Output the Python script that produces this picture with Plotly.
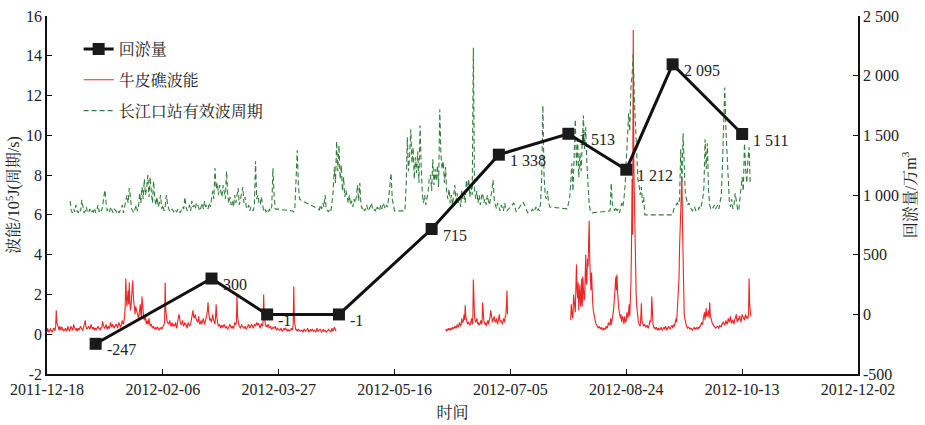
import pandas as pd
import plotly.graph_objects as go

# ---------------- 回淤量 (万m³) at each survey ----------------
survey_dates = ["2012-01-08", "2012-02-27", "2012-03-22", "2012-04-22", "2012-06-01",
                "2012-06-30", "2012-07-30", "2012-08-24", "2012-09-13", "2012-10-13"]
siltation = [-247, 300, -1, -1, 715, 1338, 1513, 1212, 2095, 1511]
siltation_labels = ["-247", "300", "-1", "-1", "715", "1 338", "1 513", "1 212", "2 095", "1 511"]

# ---------------- 牛皮礁波能 (10^5 J), 6-hourly, three recording periods (one row per day) ----------------
wave_energy_start_1 = "2011-12-18"
wave_energy_1 = [
    0.1, 0.3, 0.2, 0.1,   0.15, 0.25, 0.3, 0.15,   0.2, 0.1, 0.15, 0.3,   0.3, 0.2, 0.2, 0.4,
    1.2, 0.6, 0.5, 0.3,   0.3, 0.2, 0.4, 0.25,   0.2, 0.35, 0.35, 0.2,   0.25, 0.15, 0.2, 0.3,
    0.3, 0.2, 0.15, 0.25,   0.4, 0.3, 0.2, 0.15,   0.25, 0.4, 0.35, 0.2,   0.2, 0.3, 0.5, 0.35,
    0.3, 0.2, 0.2, 0.3,   0.15, 0.25, 0.3, 0.2,   0.25, 0.35, 0.4, 0.3,   0.3, 0.2, 0.2, 0.35,
    0.45, 0.6, 0.7, 0.4,   0.35, 0.25, 0.3, 0.4,   0.4, 0.3, 0.25, 0.35,   0.5, 0.4, 0.3, 0.25,
    0.35, 0.25, 0.2, 0.3,   0.3, 0.2, 0.25, 0.35,   0.4, 0.3, 0.3, 0.25,   0.2, 0.35, 0.3, 0.4,
    0.65, 0.5, 0.35, 0.3,   0.3, 0.45, 0.5, 0.35,   0.25, 0.35, 0.4, 0.3,   0.3, 0.5, 0.6, 0.4,
    0.35, 0.5, 0.45, 0.35,   0.3, 0.4, 0.4, 0.5,   0.5, 0.4, 0.3, 0.45,   0.6, 0.5, 0.4, 0.35,
    0.45, 0.6, 0.7, 0.55,   0.5, 0.7, 0.9, 1.4,   2.8, 1.9, 1.4, 1.8,   2.2, 1.5, 2.6, 1.7,
    1.2, 1.4, 1.8, 2.1,   2.7, 1.9, 1.5, 1.2,   1.0, 1.4, 1.3, 1.1,   1.1, 0.9, 0.8, 1.0,
    1.2, 1.5, 1.0, 0.9,   1.9, 1.3, 1.1, 0.8,   0.7, 0.9, 0.9, 0.6,   0.5, 0.7, 0.6, 0.5,
    0.8, 0.6, 0.4, 0.5,   0.5, 0.4, 0.3, 0.35,   0.4, 0.3, 0.25, 0.3,   0.35, 0.25, 0.3, 0.35,
    0.3, 0.2, 0.2, 0.3,   0.3, 0.35, 0.25, 0.3,   0.35, 0.4, 0.5, 0.6,   2.6, 1.2, 0.8, 0.7,
    0.6, 0.5, 0.5, 0.6,   0.7, 0.5, 0.4, 0.5,   0.6, 0.4, 0.5, 0.45,   0.4, 0.5, 0.6, 0.4,
    0.3, 0.5, 0.8, 0.9,   1.0, 0.7, 0.6, 0.5,   0.5, 0.6, 0.7, 0.5,   0.4, 0.5, 0.6, 0.5,
    0.5, 0.4, 0.3, 0.5,   0.6, 0.5, 0.4, 0.45,   0.5, 0.7, 0.9, 1.0,   1.2, 0.9, 0.8, 0.9,
    1.0, 0.8, 0.7, 0.6,   0.6, 0.7, 0.9, 0.6,   0.5, 0.6, 0.7, 0.5,   0.6, 0.7, 0.8, 0.6,
    0.5, 0.6, 0.7, 0.8,   1.0, 1.2, 1.6, 1.1,   0.9, 0.7, 0.8, 0.7,   0.6, 0.8, 1.0, 0.8,
    0.7, 0.6, 0.5, 0.9,   1.5, 0.9, 0.6, 0.5,   0.4, 0.5, 0.5, 0.4,   0.3, 0.4, 0.45, 0.35,
    0.35, 0.45, 0.5, 0.4,   0.3, 0.35, 0.4, 0.3,   0.25, 0.3, 0.35, 0.4,   0.5, 0.4, 0.3, 0.35,
    0.4, 0.3, 0.3, 0.4,   0.6, 0.5, 0.5, 0.6,   2.0, 0.9, 0.6, 0.5,   0.4, 0.35, 0.3, 0.4,
    0.5, 0.4, 0.35, 0.3,   0.3, 0.35, 0.4, 0.3,   0.25, 0.3, 0.35, 0.4,   0.5, 0.4, 0.3, 0.35,
    0.4, 0.5, 0.45, 0.4,   0.3, 0.4, 0.5, 0.45,   0.4, 0.5, 0.6, 0.5,   0.45, 0.55, 0.5, 0.4,
    0.3, 0.4, 0.55, 0.45,   0.4, 0.6, 2.0, 0.9,   0.6, 0.5, 0.4, 0.45,   0.35, 0.4, 0.5, 0.4,
    0.3, 0.35, 0.4, 0.3,   0.25, 0.3, 0.35, 0.3,   0.3, 0.35, 0.4, 0.3,   0.2, 0.25, 0.3, 0.25,
    0.25, 0.2, 0.2, 0.25,   0.3, 0.2, 0.15, 0.2,   0.25, 0.3, 0.2, 0.25,   0.3, 0.25, 0.2, 0.15,
    0.25, 0.2, 0.15, 0.2,   0.2, 0.25, 0.3, 0.2,   0.25, 0.5, 2.4, 0.7,   0.4, 0.3, 0.2, 0.25,
    0.15, 0.2, 0.25, 0.2,   0.2, 0.15, 0.15, 0.2,   0.2, 0.15, 0.1, 0.2,   0.25, 0.2, 0.15, 0.2,
    0.2, 0.25, 0.3, 0.2,   0.1, 0.15, 0.2, 0.25,   0.15, 0.2, 0.25, 0.2,   0.15, 0.2, 0.2, 0.15,
    0.1, 0.2, 0.3, 0.2,   0.15, 0.2, 0.2, 0.25,   0.25, 0.15, 0.1, 0.15,   0.2, 0.25, 0.15, 0.2,
    0.2, 0.15, 0.1, 0.15,   0.15, 0.2, 0.25, 0.2,   0.2, 0.15, 0.1, 0.2,   0.3, 0.2, 0.15, 0.25,
    0.35, 0.3, 0.2, 0.15,
]
wave_energy_start_2 = "2012-06-07"
wave_energy_2 = [
    0.2, 0.25, 0.15, 0.2,   0.25, 0.3, 0.2, 0.25,   0.3, 0.2, 0.25, 0.35,   0.35, 0.25, 0.3, 0.4,
    0.4, 0.3, 0.35, 0.3,   0.5, 0.4, 0.35, 0.45,   0.6, 0.5, 0.4, 0.5,   0.8, 0.6, 0.6, 0.7,
    1.0, 0.7, 1.45, 0.9,   0.7, 0.6, 0.5, 0.6,   0.6, 0.5, 0.45, 0.55,   0.7, 0.8, 0.5, 0.6,
    2.75, 1.2, 0.9, 0.7,   0.6, 0.7, 0.8, 0.6,   0.5, 0.6, 0.45, 0.5,   0.6, 0.7, 0.5, 0.6,
    1.6, 0.9, 0.7, 0.6,   0.5, 0.6, 0.4, 0.5,   0.6, 0.7, 0.5, 0.6,   0.8, 0.9, 1.2, 0.8,
    0.8, 0.6, 0.7, 0.8,   0.9, 0.7, 0.6, 0.7,   0.8, 0.6, 0.5, 0.7,   0.9, 1.0, 0.6, 0.7,
    0.7, 0.6, 0.5, 0.6,   0.8, 0.7, 0.6, 0.9,   0.9, 1.4, 2.2, 1.0,
]
wave_energy_start_3 = "2012-07-31"
wave_energy_3 = [
    0.7, 1.5, 1.2, 0.8,   0.9, 2.0, 1.5, 1.1,   1.1, 2.4, 3.5, 2.2,   1.8, 2.6, 1.2, 2.0,
    2.5, 1.4, 1.6, 2.8,   1.4, 2.9, 2.2, 1.7,   1.8, 3.2, 4.0, 2.5,   2.6, 3.8, 3.4, 4.6,
    5.7, 3.6, 3.0, 2.2,   3.1, 1.9, 1.6, 1.2,   1.0, 0.8, 0.7, 0.6,   0.5, 0.45, 0.4, 0.35,
    0.3, 0.4, 0.35, 0.3,   0.25, 0.35, 0.3, 0.2,   0.2, 0.3, 0.3, 0.25,   0.25, 0.4, 0.35, 0.3,
    0.4, 0.6, 0.5, 0.45,   0.55, 0.8, 0.45, 0.6,   0.7, 1.0, 1.2, 1.5,   2.0, 2.5, 2.9, 2.2,
    3.0, 2.1, 1.5, 1.3,   1.1, 0.9, 0.8, 1.0,   0.6, 0.8, 0.9, 0.7,   0.5, 0.9, 0.8, 0.6,
    0.7, 1.1, 1.0, 0.8,   1.2, 1.5, 0.9, 1.4,   2.5, 4.5, 7.8, 5.0,   15.3, 8.5, 6.2, 4.0,
    3.2, 2.0, 1.4, 1.0,   0.7, 0.6, 0.5, 0.45,   0.4, 0.8, 1.55, 0.7,   0.6, 0.5, 0.4, 0.45,
    0.5, 0.4, 0.35, 0.4,   0.45, 0.35, 0.3, 0.4,   0.5, 0.7, 0.6, 0.8,   1.9, 0.9, 0.5, 0.4,
    0.3, 0.35, 0.25, 0.3,   0.35, 0.25, 0.2, 0.3,   0.3, 0.2, 0.25, 0.3,   0.35, 0.25, 0.2, 0.25,
    0.3, 0.35, 0.25, 0.3,   0.4, 0.3, 0.2, 0.25,   0.3, 0.4, 0.35, 0.3,   0.25, 0.35, 0.4, 0.45,
    0.3, 0.45, 0.5, 0.4,   0.6, 0.7, 0.8, 0.6,   1.2, 1.6, 2.0, 2.8,   4.4, 5.2, 6.4, 7.2,
    7.9, 5.5, 3.0, 2.0,   1.0, 0.8, 0.6, 0.5,   0.4, 0.35, 0.3, 0.35,   0.35, 0.3, 0.25, 0.3,
    0.3, 0.25, 0.2, 0.25,   0.3, 0.35, 0.25, 0.3,   0.25, 0.3, 0.35, 0.3,   0.25, 0.35, 0.3, 0.4,
    0.4, 0.5, 0.6, 0.5,   0.5, 0.8, 0.9, 1.1,   0.7, 1.0, 1.3, 0.9,   0.9, 1.1, 1.2, 0.8,
    1.6, 1.0, 0.8, 0.7,   0.6, 0.5, 0.5, 0.4,   0.4, 0.35, 0.3, 0.35,   0.35, 0.4, 0.4, 0.3,
    0.3, 0.45, 0.4, 0.35,   0.35, 0.5, 0.5, 0.6,   0.6, 0.5, 0.45, 0.55,   0.7, 0.6, 0.5, 0.6,
    0.8, 0.7, 0.6, 0.8,   0.9, 0.6, 0.55, 0.7,   0.7, 0.6, 0.5, 0.7,   0.8, 0.9, 1.0, 0.7,
    0.6, 0.8, 0.7, 0.9,   0.9, 0.7, 0.6, 0.8,   1.0, 0.9, 0.8, 0.7,   0.7, 0.9, 1.0, 0.8,
    0.9, 0.8, 0.8, 1.0,   2.8, 1.5, 1.1, 0.9,
]

# ---------------- 长江口站有效波周期 (s), 12-hourly blocks ----------------
period_start_1 = "2011-12-28"
period_1 = [
    6.7, 6.2, 6.1, 6.3, 6.15, 6.5, 6.2, 6.1, 6.3, 6.2,
    6.75, 6.3, 6.1, 6.2, 6.4, 6.1, 6.15, 6.3, 6.1, 6.2,
    6.15, 6.35, 6.1, 6.2, 6.5, 6.15, 6.3, 6.2, 6.4, 6.9,
    7.25, 6.6, 6.2, 6.3, 6.15, 6.4, 6.2, 6.1, 6.3, 6.2,
    6.15, 6.25, 6.1, 6.2, 6.3, 6.5, 6.1, 6.4, 6.8, 7.0,
    6.6, 7.35, 6.9, 6.3, 6.2, 6.1, 6.3, 6.5, 6.2, 6.4,
    7.1, 6.6, 7.4, 6.8, 7.8, 7.0, 7.3, 8.0, 6.9, 7.9,
    7.2, 6.6, 7.7, 6.8, 6.5, 6.9, 6.4, 6.6, 7.0, 6.3,
    6.5, 6.2, 6.4, 7.0, 6.6, 6.3, 6.2, 6.15, 6.3, 6.2,
    6.1, 6.2, 6.15, 6.3, 6.2, 6.1, 6.25, 6.4, 6.3, 6.9,
    6.4, 6.2, 6.3, 6.5, 6.2, 6.7, 6.4, 6.5, 6.3, 6.6,
    6.5, 6.3, 6.2, 6.4, 6.6, 6.3, 6.7, 6.4, 6.5, 6.3,
    6.6, 6.4, 6.9, 7.2, 6.8, 8.35, 7.3, 7.6, 7.0, 7.5,
    7.2, 6.9, 7.5, 7.1, 6.8, 8.2, 7.0, 6.6, 6.9, 6.5,
    6.7, 6.4, 7.0, 6.6, 6.9, 7.35, 6.5, 6.8, 7.1, 7.4,
    6.6, 6.9, 6.4, 6.3, 6.5, 6.2, 6.4, 6.3, 6.2, 6.5,
    8.7, 6.8, 7.0, 6.6, 6.5, 6.9, 6.4, 6.2, 6.3, 6.15,
    6.2, 6.1, 6.3, 6.2, 6.4, 8.35, 7.0, 6.3,
]
period_start_2 = "2012-04-02"
period_2 = [6.2, 6.15, 6.4, 7.5, 9.25, 7.5, 6.8, 6.75]
period_start_3 = "2012-04-12 12:00"
period_3 = [
    6.35, 6.3, 6.25, 6.5, 6.3, 6.6, 6.4, 7.0, 6.3,
    6.2, 6.15, 6.3, 6.2, 6.6, 7.2, 8.4, 7.6, 9.7, 8.2,
    9.5, 7.8, 8.5, 7.2, 7.9, 6.9, 7.25, 6.8, 6.6, 7.0,
    6.5, 6.7, 6.4, 6.8, 6.6, 6.9, 7.5, 6.7, 7.6, 6.5,
    6.3, 6.4, 6.2, 6.3, 6.5, 6.2, 6.3, 6.4, 6.6, 6.3,
    6.2, 6.3, 6.15, 6.4, 6.3, 6.2, 6.5, 6.3, 6.6, 6.4,
    6.3, 6.5, 6.4, 6.9, 7.4, 8.1, 6.8, 6.4, 6.2,
]
period_start_4 = "2012-05-20 12:00"
period_4 = [
    6.2,
    7.5, 9.9, 8.2, 9.0, 10.3, 8.6, 9.4, 7.8, 8.9, 8.1,
    9.2, 7.6, 10.5, 8.4, 7.0, 6.6, 7.0, 6.5, 6.8, 7.2,
    7.9, 8.0, 7.2, 8.8, 7.5, 8.3, 7.7, 8.5, 7.4, 11.3,
    9.1, 8.3, 8.7, 7.6, 8.4, 7.1, 6.8, 7.3, 6.6, 7.0,
    6.5, 6.9, 7.5, 6.7, 7.1, 6.6, 6.9, 6.4, 7.2, 6.8,
    7.0, 6.6, 7.75, 7.2, 7.8, 6.9, 7.4, 7.0, 14.4, 7.3,
    6.8, 7.2, 6.6, 7.0, 6.5, 6.9, 7.1, 6.6, 6.8, 6.5,
    7.0, 6.7, 6.5, 6.9, 7.2, 7.75, 6.8, 6.5, 6.3, 6.6,
    6.4, 6.2, 6.5, 6.3, 6.2, 6.6, 6.3, 6.2,
]
# sparse single readings in early July
period_sparse_times = ["2012-07-06 12:00", "2012-07-07 12:00", "2012-07-10 12:00", "2012-07-12 12:00"]
period_sparse = [6.6, 6.15, 6.65, 6.1]
period_start_5 = "2012-07-14"
period_5 = [6.2, 6.3, 6.15, 6.25, 6.4, 6.2, 6.3, 6.2, 6.6, 7.8, 11.5, 8.0, 7.0, 6.8, 7.2, 6.6, 6.4]
period_start_6 = "2012-07-29 12:00"
period_6 = [6.3, 6.5, 6.8, 7.5, 8.6, 7.2, 9.5, 10.8, 8.4, 9.8, 7.9,
            9.1, 8.2, 10.1, 11.0, 9.3, 10.4, 8.6, 7.4, 6.5, 6.2, 6.1]
period_start_7 = "2012-08-17"
period_7 = [6.2, 7.6, 6.5, 6.3, 6.2, 6.4, 6.2, 6.3, 6.1, 6.3, 6.6, 6.4, 6.8, 7.5, 8.8, 9.6,
            11.1, 10.2, 12.4, 13.0, 14.1, 11.8, 10.6, 9.0, 7.8, 7.5, 7.0, 7.4, 6.6, 6.9, 6.0]
period_start_8 = "2012-09-13"
period_8 = [
    6.0, 6.3, 6.4, 6.5, 6.6, 6.5, 6.8, 9.3, 7.6, 10.1,
    8.2, 7.0, 6.8, 6.5, 6.6, 6.4, 6.3, 6.2, 6.3, 6.4,
    6.2, 6.3, 6.25, 6.4, 6.3, 6.5, 6.8, 7.4, 9.8, 8.3,
    9.6, 7.2, 6.5, 6.3, 6.4, 6.35, 6.5, 6.3, 6.4, 6.5,
    6.3, 6.6, 7.0, 8.5, 11.0, 12.4, 10.3, 9.0, 8.1, 6.6,
    6.4, 6.8, 6.3, 6.5, 7.1, 6.6, 6.3, 6.2, 6.8, 7.3,
    7.9, 7.2, 9.6, 8.3, 7.6, 8.8, 9.4, 7.5,
]

# axis ticks
x_tick_dates = ["2011-12-18", "2012-02-06", "2012-03-27", "2012-05-16",
                "2012-07-05", "2012-08-24", "2012-10-13", "2012-12-02"]
left_ticks = [-2, 0, 2, 4, 6, 8, 10, 12, 14, 16]
left_tick_text = ["-2", "0", "2", "4", "6", "8", "10", "12", "14", "16"]
right_ticks = [-500, 0, 500, 1000, 1500, 2000, 2500]
right_tick_text = ["-500", "0", "500", "1 000", "1 500", "2 000", "2 500"]


def sampled(start, values, freq):
    return list(pd.date_range(start, periods=len(values), freq=freq))


# red series: separate recording periods, broken by gaps
red_x, red_y = [], []
for start, vals in [(wave_energy_start_1, wave_energy_1),
                    (wave_energy_start_2, wave_energy_2),
                    (wave_energy_start_3, wave_energy_3)]:
    t = sampled(start, vals, "6h")
    red_x += t + [t[-1]]
    red_y += vals + [None]

# green series: blocks joined directly
green_x, green_y = [], []
for start, vals in [(period_start_1, period_1), (period_start_2, period_2),
                    (period_start_3, period_3), (period_start_4, period_4)]:
    green_x += sampled(start, vals, "12h")
    green_y += vals
green_x += list(pd.to_datetime(period_sparse_times))
green_y += period_sparse
for start, vals in [(period_start_5, period_5), (period_start_6, period_6),
                    (period_start_7, period_7), (period_start_8, period_8)]:
    green_x += sampled(start, vals, "12h")
    green_y += vals

FONT = "Liberation Serif, Times New Roman, Noto Serif CJK SC, Noto Sans CJK SC, serif"
RED = "#ec2526"
GREEN = "#2f7f3b"

fig = go.Figure()
fig.add_trace(go.Scatter(
    x=red_x, y=red_y, mode="lines", name="牛皮礁波能",
    line=dict(color=RED, width=1.1), legendrank=2, legendgroup="b",
))
fig.add_trace(go.Scatter(
    x=green_x, y=green_y, mode="lines", name="长江口站有效波周期",
    line=dict(color=GREEN, width=1.1, dash="5px,3px"), legendrank=3, legendgroup="c",
))
fig.add_trace(go.Scatter(
    x=pd.to_datetime(survey_dates), y=siltation, mode="lines+markers", name="回淤量",
    yaxis="y2", line=dict(color="#111111", width=3),
    marker=dict(symbol="square", size=12, color="#1a1a1a"),
    legendrank=1, legendgroup="a",
))

for d, v, lab in zip(survey_dates, siltation, siltation_labels):
    fig.add_annotation(x=d, y=v, xref="x", yref="y2", text=lab, showarrow=False,
                       xanchor="left", yanchor="middle", xshift=9, yshift=-6,
                       font=dict(family=FONT, size=16, color="#222222"))

axis_common = dict(showline=True, linecolor="#111111", linewidth=1.5, showgrid=False,
                   zeroline=False, ticks="inside", ticklen=5, tickcolor="#111111",
                   automargin=False,
                   tickfont=dict(family=FONT, size=16, color="#222222"))

fig.update_layout(
    width=925, height=425,
    margin=dict(l=47, r=67, t=16, b=51),
    plot_bgcolor="white", paper_bgcolor="white",
    font=dict(family=FONT, size=16, color="#222222"),
    xaxis=dict(
        type="date", range=["2011-12-18", "2012-12-02"],
        tickvals=x_tick_dates, ticktext=x_tick_dates,
        title=dict(text="时间", font=dict(family=FONT, size=16), standoff=10),
        **axis_common,
    ),
    yaxis=dict(
        range=[-2, 16], tickvals=left_ticks, ticktext=left_tick_text,
        title=dict(text="波能/10<sup>5</sup>J(周期/s)", font=dict(family=FONT, size=16), standoff=2),
        **axis_common,
    ),
    yaxis2=dict(
        range=[-500, 2500], overlaying="y", side="right",
        tickvals=right_ticks, ticktext=right_tick_text,
        title=dict(text="回淤量/万m<sup>3</sup>", font=dict(family=FONT, size=16), standoff=4),
        **axis_common,
    ),
    legend=dict(
        x=0.039, y=0.955, xanchor="left", yanchor="top",
        bgcolor="rgba(0,0,0,0)", itemwidth=30, traceorder="grouped",
        tracegroupgap=7, font=dict(family=FONT, size=16, color="#222222"),
    ),
    showlegend=True,
)

fig.write_html("out.html")
